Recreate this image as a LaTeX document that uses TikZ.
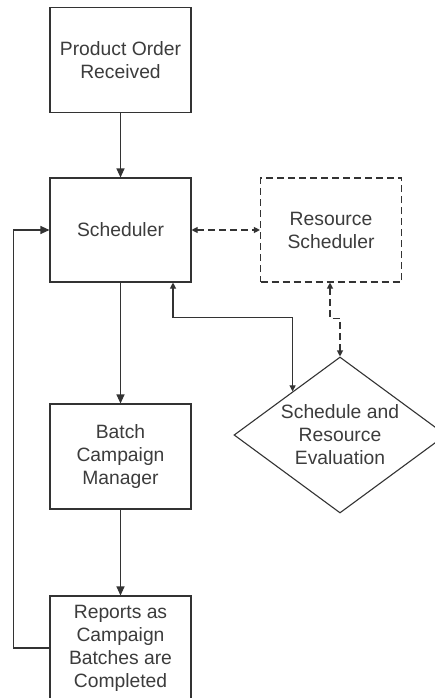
\documentclass[tikz,border=0pt]{standalone}
\usepackage{fontspec}
\setmainfont{Liberation Sans}
\usetikzlibrary{arrows.meta,shapes.geometric,calc}
\definecolor{ln}{HTML}{333333}
\definecolor{tx}{HTML}{3c3c3c}
\begin{document}
\begin{tikzpicture}[x=1pt,y=-1pt,
  lbl/.style={text=tx,align=center,font=\fontsize{19.3}{23}\selectfont},
  box/.style={lbl,draw=ln,line width=1.1pt,minimum width=141pt,minimum height=105pt,inner sep=0pt},
  dbox/.style={box,dash pattern=on 7pt off 4pt},
  dia/.style={lbl,draw=ln,line width=1.1pt,shape=diamond,aspect=1.36,minimum width=212pt,minimum height=156pt,inner sep=0pt},
  conn/.style={draw=ln,line width=1.1pt},
  big/.style={conn,-{Triangle[length=9pt,width=8pt]}},
  two/.style={conn,{Triangle[length=6pt,width=6pt]}-{Triangle[length=6pt,width=6pt]}},
  dtwo/.style={two,dash pattern=on 7pt off 4pt}
]
\useasboundingbox (0,0) rectangle (435,698);
\clip (0,0) rectangle (435,698);
\fill[white] (0,0) rectangle (435,698);

\node[box] (po) at (120.5,60) {Product Order\\Received};
\node[box,minimum height=104pt] (sch) at (120.5,230) {Scheduler};
\node[dbox,minimum height=104pt] (rs) at (331,230) {Resource\\Scheduler};
\node[box] (bcm) at (120.5,456.5) {Batch\\Campaign\\Manager};
\node[box,minimum height=104pt] (rep) at (120.5,648) {Reports as\\Campaign\\Batches are\\Completed};
\node[dia] (eval) at (340,435) {Schedule and\\Resource\\Evaluation};

\draw[big] (po) -- (sch);
\draw[big] (sch) -- (bcm);
\draw[big] (bcm) -- (rep);
\draw[big] (rep.west) -- ++(-36,0) |- (sch.west);
\draw[dtwo] (sch.east) -- (rs.west);

\coordinate (s1) at ($(sch.south)+(52.5,0)$);
\coordinate (e1) at ($(eval.west)!0.555!(eval.north)$);
\draw[two] (s1) -- ++(0,35) -| (e1);

\coordinate (r1) at ($(rs.south)+(-1,0)$);
\draw[dtwo] (r1) -- ++(0,36) -| (eval.north);
\end{tikzpicture}
\end{document}
